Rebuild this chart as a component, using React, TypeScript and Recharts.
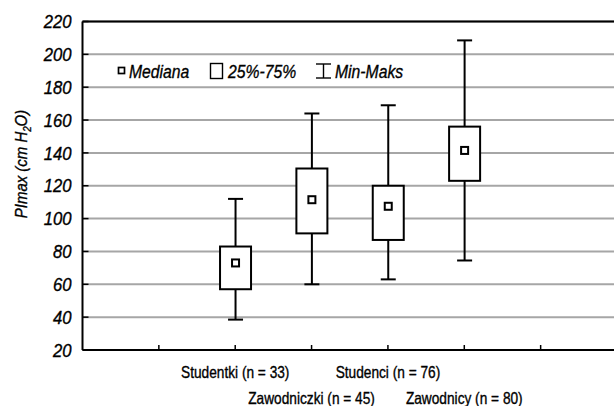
import React from "react";
import { ComposedChart, Bar, XAxis, YAxis, CartesianGrid } from "recharts";

const categories = [
  "Studentki (n = 33)",
  "Zawodniczki (n = 45)",
  "Studenci (n = 76)",
  "Zawodnicy (n = 80)",
];
const positions = [2, 3, 4, 5];
const minValues = [38.5, 60, 63, 74.5];
const q1Values = [57, 91, 87, 123];
const medianValues = [73, 111.5, 107.5, 141.5];
const q3Values = [83, 130.5, 120, 156];
const maxValues = [112, 164, 169, 208.5];
const yTicks = [20, 40, 60, 80, 100, 120, 140, 160, 180, 200, 220];
const xTicks = [1, 2, 3, 4, 5, 6];

const data = categories.map((name, i) => ({
  name,
  pos: positions[i],
  min: minValues[i],
  q1: q1Values[i],
  median: medianValues[i],
  q3: q3Values[i],
  max: maxValues[i],
  range: [minValues[i], maxValues[i]],
}));

const FONT = "'Liberation Sans', Arial, sans-serif";

const SText = (props: any) => {
  const { x, y, sx = 0.85, children, rotate = 0, ...rest } = props;
  const tr = `translate(${x}, ${y})${rotate ? ` rotate(${rotate})` : ""} scale(${sx}, 1)`;
  return (
    <text
      x={0}
      y={0}
      transform={tr}
      fontFamily={FONT}
      fill="#000"
      stroke="#000"
      strokeWidth={0.35}
      {...rest}
    >
      {children}
    </text>
  );
};

const BoxShape = (props: any) => {
  const { x, y, width, height, payload } = props;
  if (payload == null) return null;
  const cx = x + width / 2;
  const span = payload.max - payload.min;
  const ppu = span > 0 ? height / span : 0;
  const toY = (v: number) => y + (payload.max - v) * ppu;
  const boxW = 31;
  const capW = 15;
  const yMax = toY(payload.max);
  const yMin = toY(payload.min);
  const yQ1 = toY(payload.q1);
  const yQ3 = toY(payload.q3);
  const yMed = toY(payload.median);
  return (
    <g>
      <line x1={cx} x2={cx} y1={yMax} y2={yMin} stroke="#000" strokeWidth={2} />
      <line x1={cx - capW / 2} x2={cx + capW / 2} y1={yMax} y2={yMax} stroke="#000" strokeWidth={2} />
      <line x1={cx - capW / 2} x2={cx + capW / 2} y1={yMin} y2={yMin} stroke="#000" strokeWidth={2} />
      <rect x={cx - boxW / 2} y={yQ3} width={boxW} height={yQ1 - yQ3} fill="#fff" stroke="#000" strokeWidth={2} />
      <rect x={cx - 3.5} y={yMed - 3.5} width={7} height={7} fill="#fff" stroke="#000" strokeWidth={2} />
    </g>
  );
};

const XTick = (props: any) => {
  const { x, payload } = props;
  const idx = positions.indexOf(payload.value);
  if (idx < 0) return null;
  const row = idx % 2;
  const baseY = row === 0 ? 378 : 403.5;
  return (
    <SText x={x} y={baseY} sx={0.84} textAnchor="middle" fontSize={16.3}>
      {categories[idx]}
    </SText>
  );
};

const YTick = (props: any) => {
  const { x, y, payload } = props;
  return (
    <SText x={x} y={y + 6.6} sx={0.9} textAnchor="end" fontStyle="italic" fontSize={18.5}>
      {payload.value}
    </SText>
  );
};

const YLabel = () => {
  const lx = 26.5;
  const cy = 164;
  return (
    <SText x={lx} y={cy} sx={0.88} rotate={-90} textAnchor="middle" fontStyle="italic" fontSize={17}>
      PImax (cm H<tspan fontSize={11} dy={4}>2</tspan>
      <tspan dy={-4}>O)</tspan>
    </SText>
  );
};

const Legend = () => {
  const base = 78;
  return (
    <g>
      <rect x={118.5} y={67.5} width={6} height={6} fill="#fff" stroke="#000" strokeWidth={1.7} />
      <SText x={129} y={base} sx={0.85} fontStyle="italic" fontSize={18.5}>Mediana</SText>
      <rect x={210.5} y={63.5} width={12} height={15} fill="#fff" stroke="#000" strokeWidth={1.4} />
      <SText x={228} y={base} sx={0.85} fontStyle="italic" fontSize={18.5}>25%-75%</SText>
      <line x1={323.5} x2={323.5} y1={64} y2={78} stroke="#000" strokeWidth={1.4} />
      <line x1={316} x2={331} y1={64} y2={64} stroke="#000" strokeWidth={1.4} />
      <line x1={316} x2={331} y1={78} y2={78} stroke="#000" strokeWidth={1.4} />
      <SText x={335} y={base} sx={0.85} fontStyle="italic" fontSize={18.5}>Min-Maks</SText>
    </g>
  );
};

export default function App() {
  return (
    <div style={{ position: "absolute", left: 0, top: 0, width: 614, height: 406, overflow: "hidden", background: "#fff" }}>
      <ComposedChart
        width={614}
        height={406}
        data={data}
        margin={{ top: 0, right: -3, bottom: 0, left: 0 }}
      >
        <CartesianGrid
          xAxisId="bottom"
          yAxisId="left"
          horizontal
          vertical={false}
          stroke="#a6a6a6"
          strokeWidth={2}
        />
        <XAxis
          xAxisId="bottom"
          dataKey="pos"
          type="number"
          domain={[0, 7]}
          ticks={xTicks}
          orientation="bottom"
          height={56}
          tickSize={-5}
          tickMargin={0}
          tick={<XTick />}
          axisLine={{ stroke: "#000", strokeWidth: 2 }}
          tickLine={{ stroke: "#000", strokeWidth: 1.5 }}
          interval={0}
        />
        <XAxis
          xAxisId="top"
          dataKey="pos"
          type="number"
          domain={[0, 7]}
          ticks={xTicks}
          orientation="top"
          height={21.5}
          tickSize={-5}
          tick={false}
          axisLine={{ stroke: "#000", strokeWidth: 2 }}
          tickLine={{ stroke: "#000", strokeWidth: 1.5 }}
          interval={0}
        />
        <YAxis
          yAxisId="left"
          type="number"
          domain={[20, 220]}
          ticks={yTicks}
          width={82.5}
          tickSize={-6}
          tickMargin={17}
          tick={<YTick />}
          axisLine={{ stroke: "#000", strokeWidth: 2 }}
          tickLine={{ stroke: "#000", strokeWidth: 1.5 }}
          interval={0}
          label={<YLabel />}
        />
        <YAxis
          yAxisId="right"
          orientation="right"
          type="number"
          domain={[20, 220]}
          ticks={yTicks}
          width={0}
          tickSize={-5}
          tick={false}
          axisLine={false}
          tickLine={{ stroke: "#000", strokeWidth: 1.5 }}
          interval={0}
        />
        <Bar
          xAxisId="bottom"
          yAxisId="left"
          dataKey="range"
          barSize={31}
          shape={<BoxShape />}
          isAnimationActive={false}
        />
        <Legend />
      </ComposedChart>
    </div>
  );
}
